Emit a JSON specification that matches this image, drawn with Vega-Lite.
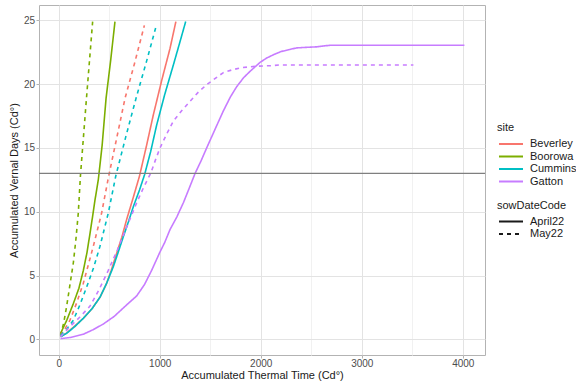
{
  "$schema": "https://vega.github.io/schema/vega-lite/v6.json",
  "width": 446,
  "height": 350,
  "autosize": {"type": "none"},
  "padding": {"left": 39, "top": 5, "right": 91, "bottom": 27},
  "background": "white",
  "config": {
    "font": "Liberation Sans",
    "view": {"stroke": "#B3B3B3", "strokeWidth": 1},
    "axis": {
      "domain": false,
      "tickColor": "#B3B3B3",
      "tickSize": 3,
      "labelColor": "#4D4D4D",
      "labelFontSize": 10,
      "labelFont": "Liberation Sans",
      "titleFont": "Liberation Sans",
      "titleFontSize": 11,
      "titleFontWeight": "normal",
      "titleColor": "#1A1A1A",
      "gridWidth": 1
    },
    "legend": {
      "titleFont": "Liberation Sans",
      "labelFont": "Liberation Sans",
      "titleFontSize": 11,
      "titleFontWeight": "normal",
      "titleColor": "#1A1A1A",
      "labelFontSize": 11,
      "labelColor": "#1A1A1A",
      "padding": 0
    }
  },
  "datasets": {
    "curves": [
      {"site": "Boorowa", "sowDateCode": "April22", "tt": 18, "vd": 0.45},
      {"site": "Boorowa", "sowDateCode": "April22", "tt": 80, "vd": 1.5},
      {"site": "Boorowa", "sowDateCode": "April22", "tt": 145, "vd": 2.8},
      {"site": "Boorowa", "sowDateCode": "April22", "tt": 200, "vd": 4.0},
      {"site": "Boorowa", "sowDateCode": "April22", "tt": 244, "vd": 5.4},
      {"site": "Boorowa", "sowDateCode": "April22", "tt": 280, "vd": 6.8},
      {"site": "Boorowa", "sowDateCode": "April22", "tt": 310, "vd": 8.3},
      {"site": "Boorowa", "sowDateCode": "April22", "tt": 335, "vd": 9.6},
      {"site": "Boorowa", "sowDateCode": "April22", "tt": 359, "vd": 10.9},
      {"site": "Boorowa", "sowDateCode": "April22", "tt": 392, "vd": 12.5},
      {"site": "Boorowa", "sowDateCode": "April22", "tt": 430, "vd": 15.2},
      {"site": "Boorowa", "sowDateCode": "April22", "tt": 469, "vd": 18.9},
      {"site": "Boorowa", "sowDateCode": "April22", "tt": 515, "vd": 21.9},
      {"site": "Boorowa", "sowDateCode": "April22", "tt": 557, "vd": 24.9},
      {"site": "Boorowa", "sowDateCode": "May22", "tt": 18, "vd": 0.3},
      {"site": "Boorowa", "sowDateCode": "May22", "tt": 50, "vd": 1.3},
      {"site": "Boorowa", "sowDateCode": "May22", "tt": 79, "vd": 2.6},
      {"site": "Boorowa", "sowDateCode": "May22", "tt": 110, "vd": 4.2},
      {"site": "Boorowa", "sowDateCode": "May22", "tt": 145, "vd": 6.0},
      {"site": "Boorowa", "sowDateCode": "May22", "tt": 170, "vd": 7.8},
      {"site": "Boorowa", "sowDateCode": "May22", "tt": 194, "vd": 9.9},
      {"site": "Boorowa", "sowDateCode": "May22", "tt": 215, "vd": 12.8},
      {"site": "Boorowa", "sowDateCode": "May22", "tt": 275, "vd": 18.9},
      {"site": "Boorowa", "sowDateCode": "May22", "tt": 336, "vd": 24.9},
      {"site": "Beverley", "sowDateCode": "May22", "tt": 18, "vd": 0.3},
      {"site": "Beverley", "sowDateCode": "May22", "tt": 60, "vd": 0.8},
      {"site": "Beverley", "sowDateCode": "May22", "tt": 112, "vd": 1.5},
      {"site": "Beverley", "sowDateCode": "May22", "tt": 180, "vd": 2.9},
      {"site": "Beverley", "sowDateCode": "May22", "tt": 244, "vd": 4.4},
      {"site": "Beverley", "sowDateCode": "May22", "tt": 343, "vd": 7.3},
      {"site": "Beverley", "sowDateCode": "May22", "tt": 425, "vd": 9.9},
      {"site": "Beverley", "sowDateCode": "May22", "tt": 495, "vd": 12.8},
      {"site": "Beverley", "sowDateCode": "May22", "tt": 575, "vd": 15.8},
      {"site": "Beverley", "sowDateCode": "May22", "tt": 657, "vd": 18.9},
      {"site": "Beverley", "sowDateCode": "May22", "tt": 750, "vd": 21.6},
      {"site": "Beverley", "sowDateCode": "May22", "tt": 848, "vd": 24.6},
      {"site": "Cummins", "sowDateCode": "May22", "tt": 18, "vd": 0.3},
      {"site": "Cummins", "sowDateCode": "May22", "tt": 80, "vd": 0.8},
      {"site": "Cummins", "sowDateCode": "May22", "tt": 145, "vd": 1.5},
      {"site": "Cummins", "sowDateCode": "May22", "tt": 210, "vd": 2.7},
      {"site": "Cummins", "sowDateCode": "May22", "tt": 277, "vd": 4.1},
      {"site": "Cummins", "sowDateCode": "May22", "tt": 345, "vd": 5.6},
      {"site": "Cummins", "sowDateCode": "May22", "tt": 409, "vd": 7.3},
      {"site": "Cummins", "sowDateCode": "May22", "tt": 491, "vd": 9.9},
      {"site": "Cummins", "sowDateCode": "May22", "tt": 565, "vd": 12.8},
      {"site": "Cummins", "sowDateCode": "May22", "tt": 665, "vd": 15.9},
      {"site": "Cummins", "sowDateCode": "May22", "tt": 766, "vd": 18.9},
      {"site": "Cummins", "sowDateCode": "May22", "tt": 870, "vd": 21.8},
      {"site": "Cummins", "sowDateCode": "May22", "tt": 970, "vd": 24.7},
      {"site": "Beverley", "sowDateCode": "April22", "tt": 18, "vd": 0.2},
      {"site": "Beverley", "sowDateCode": "April22", "tt": 79, "vd": 0.5},
      {"site": "Beverley", "sowDateCode": "April22", "tt": 160, "vd": 1.05},
      {"site": "Beverley", "sowDateCode": "April22", "tt": 244, "vd": 1.65},
      {"site": "Beverley", "sowDateCode": "April22", "tt": 330, "vd": 2.4},
      {"site": "Beverley", "sowDateCode": "April22", "tt": 409, "vd": 3.3},
      {"site": "Beverley", "sowDateCode": "April22", "tt": 470, "vd": 4.3},
      {"site": "Beverley", "sowDateCode": "April22", "tt": 520, "vd": 5.4},
      {"site": "Beverley", "sowDateCode": "April22", "tt": 574, "vd": 6.75},
      {"site": "Beverley", "sowDateCode": "April22", "tt": 625, "vd": 8.0},
      {"site": "Beverley", "sowDateCode": "April22", "tt": 673, "vd": 9.4},
      {"site": "Beverley", "sowDateCode": "April22", "tt": 730, "vd": 10.9},
      {"site": "Beverley", "sowDateCode": "April22", "tt": 800, "vd": 12.8},
      {"site": "Beverley", "sowDateCode": "April22", "tt": 870, "vd": 15.2},
      {"site": "Beverley", "sowDateCode": "April22", "tt": 937, "vd": 17.6},
      {"site": "Beverley", "sowDateCode": "April22", "tt": 1020, "vd": 20.3},
      {"site": "Beverley", "sowDateCode": "April22", "tt": 1102, "vd": 22.8},
      {"site": "Beverley", "sowDateCode": "April22", "tt": 1160, "vd": 24.9},
      {"site": "Cummins", "sowDateCode": "April22", "tt": 18, "vd": 0.2},
      {"site": "Cummins", "sowDateCode": "April22", "tt": 79, "vd": 0.47},
      {"site": "Cummins", "sowDateCode": "April22", "tt": 160, "vd": 1.0},
      {"site": "Cummins", "sowDateCode": "April22", "tt": 244, "vd": 1.65},
      {"site": "Cummins", "sowDateCode": "April22", "tt": 330, "vd": 2.4},
      {"site": "Cummins", "sowDateCode": "April22", "tt": 409, "vd": 3.3},
      {"site": "Cummins", "sowDateCode": "April22", "tt": 475, "vd": 4.4},
      {"site": "Cummins", "sowDateCode": "April22", "tt": 541, "vd": 5.7},
      {"site": "Cummins", "sowDateCode": "April22", "tt": 590, "vd": 6.85},
      {"site": "Cummins", "sowDateCode": "April22", "tt": 640, "vd": 8.05},
      {"site": "Cummins", "sowDateCode": "April22", "tt": 690, "vd": 9.2},
      {"site": "Cummins", "sowDateCode": "April22", "tt": 739, "vd": 10.4},
      {"site": "Cummins", "sowDateCode": "April22", "tt": 800, "vd": 11.7},
      {"site": "Cummins", "sowDateCode": "April22", "tt": 850, "vd": 12.9},
      {"site": "Cummins", "sowDateCode": "April22", "tt": 910, "vd": 14.7},
      {"site": "Cummins", "sowDateCode": "April22", "tt": 970, "vd": 16.8},
      {"site": "Cummins", "sowDateCode": "April22", "tt": 1050, "vd": 19.2},
      {"site": "Cummins", "sowDateCode": "April22", "tt": 1135, "vd": 21.5},
      {"site": "Cummins", "sowDateCode": "April22", "tt": 1200, "vd": 23.3},
      {"site": "Cummins", "sowDateCode": "April22", "tt": 1257, "vd": 24.9},
      {"site": "Gatton", "sowDateCode": "May22", "tt": 18, "vd": 0.2},
      {"site": "Gatton", "sowDateCode": "May22", "tt": 112, "vd": 1.0},
      {"site": "Gatton", "sowDateCode": "May22", "tt": 210, "vd": 1.75},
      {"site": "Gatton", "sowDateCode": "May22", "tt": 310, "vd": 2.6},
      {"site": "Gatton", "sowDateCode": "May22", "tt": 400, "vd": 3.9},
      {"site": "Gatton", "sowDateCode": "May22", "tt": 491, "vd": 5.4},
      {"site": "Gatton", "sowDateCode": "May22", "tt": 580, "vd": 7.0},
      {"site": "Gatton", "sowDateCode": "May22", "tt": 673, "vd": 8.8},
      {"site": "Gatton", "sowDateCode": "May22", "tt": 772, "vd": 10.7},
      {"site": "Gatton", "sowDateCode": "May22", "tt": 840, "vd": 11.9},
      {"site": "Gatton", "sowDateCode": "May22", "tt": 910, "vd": 13.0},
      {"site": "Gatton", "sowDateCode": "May22", "tt": 960, "vd": 14.1},
      {"site": "Gatton", "sowDateCode": "May22", "tt": 1003, "vd": 15.0},
      {"site": "Gatton", "sowDateCode": "May22", "tt": 1070, "vd": 16.1},
      {"site": "Gatton", "sowDateCode": "May22", "tt": 1135, "vd": 17.1},
      {"site": "Gatton", "sowDateCode": "May22", "tt": 1215, "vd": 17.9},
      {"site": "Gatton", "sowDateCode": "May22", "tt": 1300, "vd": 18.65},
      {"site": "Gatton", "sowDateCode": "May22", "tt": 1380, "vd": 19.35},
      {"site": "Gatton", "sowDateCode": "May22", "tt": 1465, "vd": 19.96},
      {"site": "Gatton", "sowDateCode": "May22", "tt": 1550, "vd": 20.45},
      {"site": "Gatton", "sowDateCode": "May22", "tt": 1630, "vd": 20.9},
      {"site": "Gatton", "sowDateCode": "May22", "tt": 1710, "vd": 21.1},
      {"site": "Gatton", "sowDateCode": "May22", "tt": 1795, "vd": 21.27},
      {"site": "Gatton", "sowDateCode": "May22", "tt": 1880, "vd": 21.35},
      {"site": "Gatton", "sowDateCode": "May22", "tt": 1960, "vd": 21.4},
      {"site": "Gatton", "sowDateCode": "May22", "tt": 2100, "vd": 21.45},
      {"site": "Gatton", "sowDateCode": "May22", "tt": 2191, "vd": 21.5},
      {"site": "Gatton", "sowDateCode": "May22", "tt": 3511, "vd": 21.5},
      {"site": "Gatton", "sowDateCode": "April22", "tt": 18, "vd": 0.05},
      {"site": "Gatton", "sowDateCode": "April22", "tt": 120, "vd": 0.15},
      {"site": "Gatton", "sowDateCode": "April22", "tt": 244, "vd": 0.4},
      {"site": "Gatton", "sowDateCode": "April22", "tt": 340, "vd": 0.75},
      {"site": "Gatton", "sowDateCode": "April22", "tt": 442, "vd": 1.2},
      {"site": "Gatton", "sowDateCode": "April22", "tt": 550, "vd": 1.8},
      {"site": "Gatton", "sowDateCode": "April22", "tt": 673, "vd": 2.7},
      {"site": "Gatton", "sowDateCode": "April22", "tt": 772, "vd": 3.4},
      {"site": "Gatton", "sowDateCode": "April22", "tt": 850, "vd": 4.3},
      {"site": "Gatton", "sowDateCode": "April22", "tt": 920, "vd": 5.4},
      {"site": "Gatton", "sowDateCode": "April22", "tt": 1000, "vd": 6.8},
      {"site": "Gatton", "sowDateCode": "April22", "tt": 1050, "vd": 7.6},
      {"site": "Gatton", "sowDateCode": "April22", "tt": 1102, "vd": 8.6},
      {"site": "Gatton", "sowDateCode": "April22", "tt": 1170, "vd": 9.6},
      {"site": "Gatton", "sowDateCode": "April22", "tt": 1234, "vd": 10.7},
      {"site": "Gatton", "sowDateCode": "April22", "tt": 1290, "vd": 11.8},
      {"site": "Gatton", "sowDateCode": "April22", "tt": 1350, "vd": 13.0},
      {"site": "Gatton", "sowDateCode": "April22", "tt": 1410, "vd": 14.0},
      {"site": "Gatton", "sowDateCode": "April22", "tt": 1465, "vd": 15.0},
      {"site": "Gatton", "sowDateCode": "April22", "tt": 1550, "vd": 16.5},
      {"site": "Gatton", "sowDateCode": "April22", "tt": 1630, "vd": 17.9},
      {"site": "Gatton", "sowDateCode": "April22", "tt": 1700, "vd": 19.0},
      {"site": "Gatton", "sowDateCode": "April22", "tt": 1762, "vd": 19.8},
      {"site": "Gatton", "sowDateCode": "April22", "tt": 1830, "vd": 20.5},
      {"site": "Gatton", "sowDateCode": "April22", "tt": 1894, "vd": 21.0},
      {"site": "Gatton", "sowDateCode": "April22", "tt": 1993, "vd": 21.7},
      {"site": "Gatton", "sowDateCode": "April22", "tt": 2060, "vd": 22.05},
      {"site": "Gatton", "sowDateCode": "April22", "tt": 2125, "vd": 22.3},
      {"site": "Gatton", "sowDateCode": "April22", "tt": 2200, "vd": 22.55},
      {"site": "Gatton", "sowDateCode": "April22", "tt": 2290, "vd": 22.72},
      {"site": "Gatton", "sowDateCode": "April22", "tt": 2356, "vd": 22.84},
      {"site": "Gatton", "sowDateCode": "April22", "tt": 2450, "vd": 22.88},
      {"site": "Gatton", "sowDateCode": "April22", "tt": 2554, "vd": 22.92},
      {"site": "Gatton", "sowDateCode": "April22", "tt": 2630, "vd": 23.0},
      {"site": "Gatton", "sowDateCode": "April22", "tt": 2703, "vd": 23.05},
      {"site": "Gatton", "sowDateCode": "April22", "tt": 4016, "vd": 23.05}
    ],
    "hline": [{"yintercept": 13}]
  },
  "layer": [
    {
      "data": {"name": "curves"},
      "mark": {"type": "line", "strokeWidth": 1.6, "interpolate": "linear"},
      "encoding": {
        "x": {
          "field": "tt",
          "type": "quantitative",
          "scale": {"domain": [-195, 4220], "nice": false, "zero": false},
          "axis": {
            "title": "Accumulated Thermal Time (Cd°)",
            "values": [0, 500, 1000, 1500, 2000, 2500, 3000, 3500, 4000],
            "labelExpr": "datum.value % 1000 == 0 ? datum.value : ''",
            "labelPadding": 0.5,
            "titlePadding": 1,
            "gridColor": {"condition": {"test": "datum.value % 1000 == 0", "value": "#E3E3E3"}, "value": "#F1F1F1"},
            "tickOpacity": {"condition": {"test": "datum.value % 1000 == 0", "value": 1}, "value": 0}
          }
        },
        "y": {
          "field": "vd",
          "type": "quantitative",
          "scale": {"domain": [-1.23, 26.2], "nice": false, "zero": false},
          "axis": {
            "title": "Accumulated Vernal Days (Cd°)",
            "values": [0, 2.5, 5, 7.5, 10, 12.5, 15, 17.5, 20, 22.5, 25],
            "labelExpr": "datum.value % 5 == 0 ? datum.value : ''",
            "labelPadding": 1.5,
            "titlePadding": 4,
            "gridColor": {"condition": {"test": "datum.value % 5 == 0", "value": "#E3E3E3"}, "value": "#F1F1F1"},
            "tickOpacity": {"condition": {"test": "datum.value % 5 == 0", "value": 1}, "value": 0}
          }
        },
        "color": {
          "field": "site",
          "type": "nominal",
          "scale": {"domain": ["Beverley", "Boorowa", "Cummins", "Gatton"], "range": ["#F8766D", "#7CAE00", "#00BFC4", "#C77CFF"]},
          "legend": {
            "title": "site",
            "orient": "none",
            "legendX": 458,
            "legendY": 117,
            "symbolType": "M-2.4,0H2.4",
            "symbolSize": 100,
            "symbolStrokeWidth": 2,
            "symbolOffset": 8,
            "labelOffset": 13,
            "titlePadding": 5,
            "rowPadding": 1.5
          }
        },
        "strokeDash": {
          "field": "sowDateCode",
          "type": "nominal",
          "scale": {"domain": ["April22", "May22"], "range": [[1, 0], [4, 4]]},
          "legend": {
            "title": "sowDateCode",
            "orient": "none",
            "legendX": 458,
            "legendY": 194.5,
            "symbolType": "M-2.4,0H2.4",
            "symbolSize": 100,
            "symbolStrokeWidth": 2,
            "symbolStrokeColor": "#1A1A1A",
            "symbolOffset": 8,
            "labelOffset": 13,
            "titlePadding": 5,
            "rowPadding": 1.5
          }
        }
      }
    },
    {
      "data": {"name": "hline"},
      "mark": {"type": "rule", "color": "#7F7F7F", "strokeWidth": 1.3},
      "encoding": {
        "y": {"field": "yintercept", "type": "quantitative"}
      }
    }
  ]
}
